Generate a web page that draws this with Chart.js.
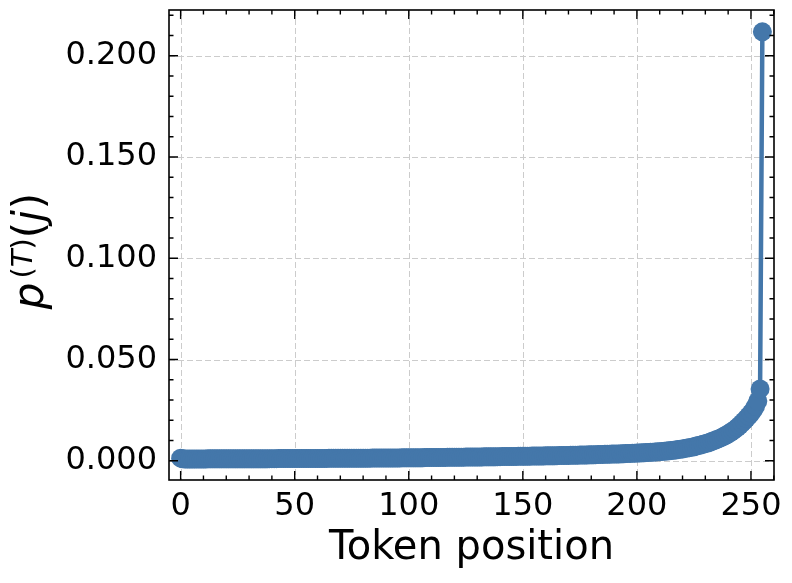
<!DOCTYPE html>
<html>
<head>
<meta charset="utf-8">
<script src="https://cdn.jsdelivr.net/npm/chart.js@4.4.1/dist/chart.umd.min.js"></script>
<style>
  html, body { margin: 0; padding: 0; background: #ffffff; }
  #wrap { width: 792px; height: 583px; }
</style>
</head>
<body>
<div id="wrap"><canvas id="c" width="792" height="583"></canvas></div>
<script>
// ---- data ----
const probs = [
  0.00130, 0.00100, 0.00092, 0.00091, 0.00091, 0.00091, 0.00092, 0.00092, 0.00092, 0.00093,
  0.00093, 0.00093, 0.00094, 0.00094, 0.00094, 0.00095, 0.00095, 0.00095, 0.00096, 0.00096,
  0.00096, 0.00097, 0.00097, 0.00097, 0.00098, 0.00098, 0.00099, 0.00099, 0.00099, 0.00100,
  0.00100, 0.00101, 0.00101, 0.00101, 0.00102, 0.00102, 0.00103, 0.00103, 0.00103, 0.00104,
  0.00104, 0.00105, 0.00105, 0.00106, 0.00106, 0.00107, 0.00107, 0.00108, 0.00108, 0.00109,
  0.00109, 0.00110, 0.00110, 0.00111, 0.00111, 0.00112, 0.00112, 0.00113, 0.00114, 0.00114,
  0.00115, 0.00115, 0.00116, 0.00117, 0.00117, 0.00118, 0.00118, 0.00119, 0.00120, 0.00120,
  0.00121, 0.00122, 0.00122, 0.00123, 0.00124, 0.00124, 0.00125, 0.00126, 0.00127, 0.00127,
  0.00128, 0.00129, 0.00130, 0.00130, 0.00131, 0.00132, 0.00133, 0.00134, 0.00135, 0.00135,
  0.00136, 0.00137, 0.00138, 0.00139, 0.00140, 0.00141, 0.00142, 0.00143, 0.00144, 0.00145,
  0.00146, 0.00147, 0.00148, 0.00150, 0.00151, 0.00152, 0.00153, 0.00155, 0.00156, 0.00157,
  0.00159, 0.00160, 0.00161, 0.00163, 0.00164, 0.00166, 0.00167, 0.00168, 0.00170, 0.00171,
  0.00173, 0.00174, 0.00176, 0.00177, 0.00179, 0.00180, 0.00182, 0.00183, 0.00185, 0.00186,
  0.00188, 0.00190, 0.00191, 0.00193, 0.00194, 0.00196, 0.00198, 0.00199, 0.00201, 0.00203,
  0.00204, 0.00206, 0.00208, 0.00209, 0.00211, 0.00213, 0.00215, 0.00216, 0.00218, 0.00220,
  0.00222, 0.00224, 0.00226, 0.00228, 0.00230, 0.00232, 0.00234, 0.00236, 0.00238, 0.00240,
  0.00242, 0.00244, 0.00246, 0.00249, 0.00251, 0.00253, 0.00256, 0.00258, 0.00261, 0.00263,
  0.00266, 0.00268, 0.00271, 0.00274, 0.00277, 0.00280, 0.00283, 0.00286, 0.00289, 0.00292,
  0.00295, 0.00298, 0.00302, 0.00305, 0.00309, 0.00312, 0.00316, 0.00320, 0.00324, 0.00328,
  0.00332, 0.00336, 0.00340, 0.00345, 0.00349, 0.00354, 0.00359, 0.00364, 0.00369, 0.00375,
  0.00380, 0.00386, 0.00392, 0.00398, 0.00404, 0.00411, 0.00418, 0.00425, 0.00432, 0.00440,
  0.00450, 0.00460, 0.00471, 0.00482, 0.00494, 0.00507, 0.00521, 0.00536, 0.00552, 0.00569,
  0.00587, 0.00606, 0.00626, 0.00648, 0.00671, 0.00696, 0.00723, 0.00752, 0.00783, 0.00816,
  0.00845, 0.00880, 0.00918, 0.00958, 0.01000, 0.01045, 0.01092, 0.01142, 0.01198, 0.01260,
  0.01325, 0.01395, 0.01470, 0.01550, 0.01640, 0.01740, 0.01850, 0.01965, 0.02085, 0.02210,
  0.02345, 0.02500, 0.02690, 0.02950, 0.03550, 0.21180
];
const positions = probs.map((_, i) => i);          // token index 0..255
const xTicks = [0, 50, 100, 150, 200, 250];
const xMinorTicks = [10, 20, 30, 40, 60, 70, 80, 90, 110, 120, 130, 140, 160, 170, 180, 190, 210, 220, 230, 240, 260];
const yTicks = [0.00, 0.05, 0.10, 0.15, 0.20];
const yMinorTicks = [0.01, 0.02, 0.03, 0.04, 0.06, 0.07, 0.08, 0.09, 0.11, 0.12, 0.13, 0.14, 0.16, 0.17, 0.18, 0.19, 0.21, 0.22];
const xTitle = "Token position";

// ---- styles ----
const BLUE = "#4477AA";
const FONT = "'DejaVu Sans', 'Liberation Sans', sans-serif";

const points = positions.map((x, i) => ({ x: x, y: probs[i] }));

function zeroPad(scale) {
  scale.paddingTop = 0; scale.paddingBottom = 0;
  scale.paddingLeft = 0; scale.paddingRight = 0;
}

const frameAndTicks = {
  id: 'frameAndTicks',
  beforeDatasetsDraw(chart) {
    const { ctx, chartArea: a, scales } = chart;
    const xs = scales.x, ys = scales.y;
    ctx.save();
    ctx.strokeStyle = '#cccccc';
    ctx.lineWidth = 1;
    ctx.setLineDash([6, 3]);
    xTicks.forEach(v => {
      const px = Math.round(xs.getPixelForValue(v)) + 0.5;
      ctx.beginPath(); ctx.moveTo(px, a.top); ctx.lineTo(px, a.bottom); ctx.stroke();
    });
    yTicks.forEach(v => {
      const py = Math.round(ys.getPixelForValue(v)) + 0.5;
      ctx.beginPath(); ctx.moveTo(a.left, py); ctx.lineTo(a.right, py); ctx.stroke();
    });
    ctx.restore();
  },
  afterDraw(chart) {
    const { ctx, chartArea: a, scales } = chart;
    const xs = scales.x, ys = scales.y;
    ctx.save();
    ctx.strokeStyle = '#000000';
    ctx.setLineDash([]);
    ctx.lineWidth = 1.4;
    const MAJ = 9, MIN = 4.5;
    const vtick = (v, len) => {
      const px = xs.getPixelForValue(v);
      if (px < a.left || px > a.right) return;
      ctx.beginPath();
      ctx.moveTo(px, a.bottom); ctx.lineTo(px, a.bottom - len);
      ctx.moveTo(px, a.top); ctx.lineTo(px, a.top + len);
      ctx.stroke();
    };
    const htick = (v, len) => {
      const py = ys.getPixelForValue(v);
      if (py < a.top || py > a.bottom) return;
      ctx.beginPath();
      ctx.moveTo(a.left, py); ctx.lineTo(a.left + len, py);
      ctx.moveTo(a.right, py); ctx.lineTo(a.right - len, py);
      ctx.stroke();
    };
    xTicks.forEach(v => vtick(v, MAJ));
    xMinorTicks.forEach(v => vtick(v, MIN));
    yTicks.forEach(v => htick(v, MAJ));
    yMinorTicks.forEach(v => htick(v, MIN));
    // frame
    ctx.lineWidth = 1.6;
    ctx.strokeRect(a.left, a.top, a.right - a.left, a.bottom - a.top);

    // y-axis title: p^{(T)}(j)
    const MAIN = "42px " + FONT, MAIN_I = "italic 42px " + FONT;
    const SUP = "29px " + FONT, SUP_I = "italic 29px " + FONT;
    const parts = [
      { t: 'p', f: MAIN_I, dy: 0, gap: 4 },
      { t: '(', f: SUP, dy: -11, gap: 0 },
      { t: 'T', f: SUP_I, dy: -11, gap: 0 },
      { t: ')', f: SUP, dy: -11, gap: 0 },
      { t: '(', f: MAIN, dy: 0, gap: 0 },
      { t: 'j', f: MAIN_I, dy: 0, gap: 1 },
      { t: ')', f: MAIN, dy: 0, gap: 0 }
    ];
    let total = 0;
    parts.forEach(p => { ctx.font = p.f; p.w = ctx.measureText(p.t).width; total += p.w + p.gap; });
    ctx.fillStyle = '#000000';
    ctx.translate(43, 0);
    ctx.rotate(-Math.PI / 2);
    ctx.textBaseline = 'alphabetic';
    ctx.textAlign = 'left';
    let u = -(251 + total / 2);
    parts.forEach(p => { ctx.font = p.f; ctx.fillText(p.t, u, p.dy); u += p.w + p.gap; });
    ctx.restore();
  }
};

new Chart(document.getElementById('c'), {
  type: 'line',
  data: {
    datasets: [{
      data: points,
      borderColor: BLUE,
      backgroundColor: BLUE,
      borderWidth: 4.5,
      pointRadius: 9.5,
      pointHoverRadius: 9.5,
      pointBorderWidth: 0,
      pointBackgroundColor: BLUE,
      tension: 0,
      clip: false
    }]
  },
  options: {
    responsive: false,
    animation: false,
    devicePixelRatio: 1,
    layout: { padding: { left: 0, right: 18, top: 10, bottom: 0 } },
    plugins: { legend: { display: false }, tooltip: { enabled: false } },
    scales: {
      x: {
        type: 'linear',
        min: -5.1,
        max: 260.1,
        afterBuildTicks(scale) { scale.ticks = xTicks.map(v => ({ value: v })); },
        afterFit(scale) { scale.height = 103; zeroPad(scale); },
        grid: { display: false, drawTicks: false },
        border: { display: false },
        ticks: {
          color: '#000000',
          font: { family: FONT, size: 32 },
          padding: 7,
          maxRotation: 0,
          autoSkip: false,
          callback: (v) => String(v)
        },
        title: {
          display: true,
          text: xTitle,
          color: '#000000',
          font: { family: FONT, size: 40 },
          padding: { top: 0, bottom: 10 }
        }
      },
      y: {
        type: 'linear',
        min: -0.0095,
        max: 0.2226,
        afterBuildTicks(scale) { scale.ticks = yTicks.map(v => ({ value: v })); },
        afterFit(scale) { scale.width = 169; zeroPad(scale); },
        grid: { display: false, drawTicks: false },
        border: { display: false },
        ticks: {
          color: '#000000',
          font: { family: FONT, size: 32 },
          padding: 12,
          autoSkip: false,
          callback: (v) => Number(v).toFixed(3)
        }
      }
    }
  },
  plugins: [frameAndTicks]
});
</script>
</body>
</html>
